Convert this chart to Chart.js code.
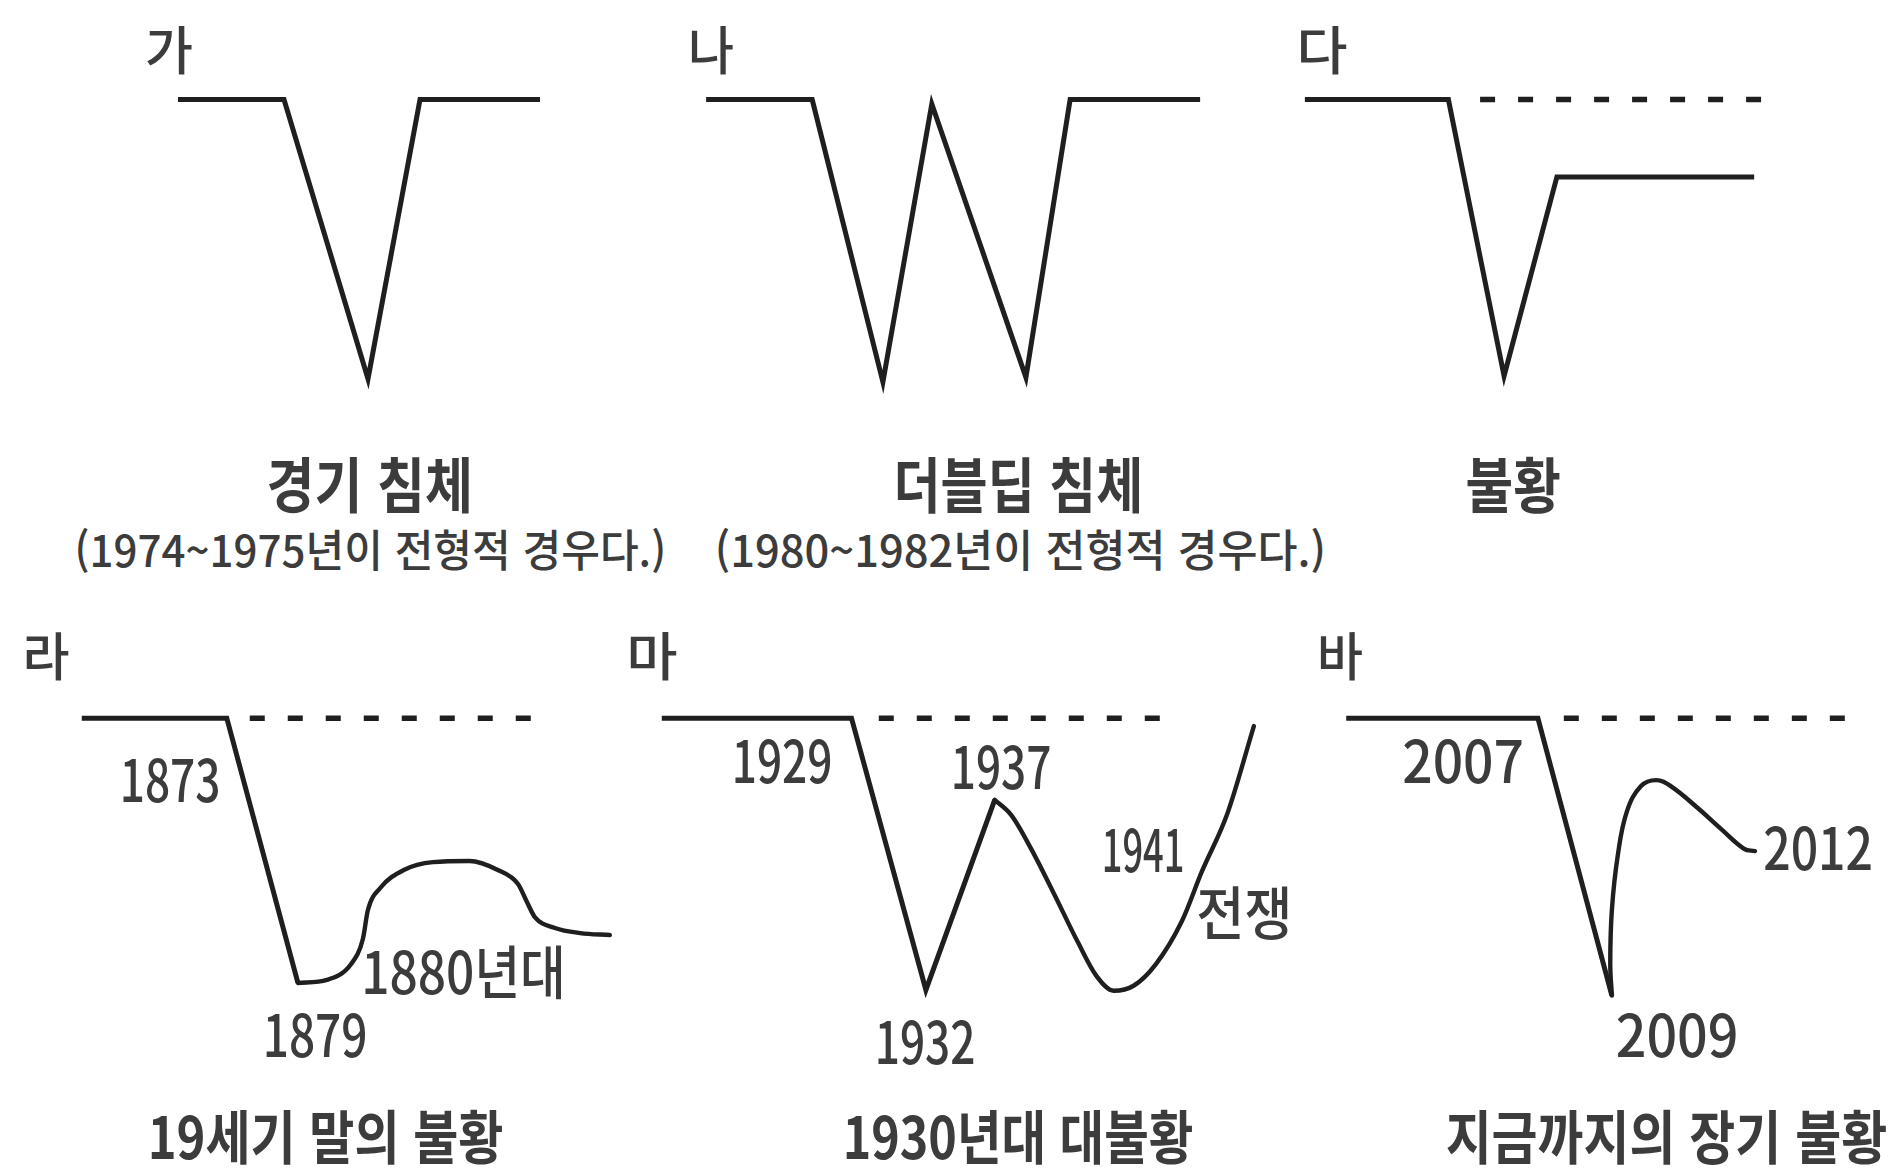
<!DOCTYPE html>
<html lang="ko">
<head>
<meta charset="utf-8">
<script src="https://cdn.jsdelivr.net/npm/chart.js@4.4.0/dist/chart.umd.min.js"></script>
<style>
  body { margin: 0; background: #fff; }
  #stage { position: relative; width: 1900px; height: 1171px; overflow: hidden;
           font-family: "Noto Sans CJK KR", "Noto Sans", sans-serif; color: #3c3c3c; }
  #stage canvas { position: absolute; }
  .txt { position: absolute; white-space: nowrap; line-height: 1; transform-origin: center center; }
</style>
</head>
<body>
<div id="stage"></div>
<script>
const INK = '#1f1f1f';

// text
const panelLetters = ['가', '나', '다', '라', '마', '바'];
const captionTitles = ['경기 침체', '더블딥 침체', '불황', '19세기 말의 불황', '1930년대 대불황', '지금까지의 장기 불황'];
const captionNotes = ['(1974~1975년이 전형적 경우다.)', '(1980~1982년이 전형적 경우다.)'];
const years19 = ['1873', '1879', '1880년대'];
const years30 = ['1929', '1937', '1932', '1941', '전쟁'];
const years08 = ['2007', '2009', '2012'];

// 가: V (time 0-100, level 100 = trend)
const vT = [4.5, 31, 52, 65, 95];
const vLevel = [100, 100, 4, 100, 100];

// 나: W
const wT = [3.1, 23.5, 37.1, 46.5, 64.6, 73.1, 98.1];
const wLevel = [100, 100, 2.9, 98.5, 4.5, 100, 100];

// 다: drop to a lower plateau
const lT = [3.1, 33, 44.6, 55.6, 96.7];
const lLevel = [100, 100, 5, 73.4, 73.4];
const lTrendT = [39.6, 98.3];
const lTrendLevel = [100, 100];

// 라: 1873-1880s
const d19DropT = [2.1, 28, 40.7];
const d19DropLevel = [100, 100, 6];
const d19CurveT = [40.7, 45.9, 50.2, 52.3, 53.2, 55.4, 59.6, 64.8, 71.3, 76.4, 80.0, 81.6, 83.0, 86.6, 91.1, 96.4];
const d19CurveLevel = [6, 7.1, 12.7, 21.6, 31.9, 39.7, 46.1, 48.9, 49.3, 46.1, 41.1, 34.7, 29.4, 25.5, 23.7, 23.0];
const d19TrendT = [32.1, 83.8];

// 마: 1929-1941
const d30DropT = [1.9, 32.5, 44.5, 55.6];
const d30DropLevel = [100, 100, 3.5, 71];
const d30CurveT = [55.6, 58.3, 61.5, 65.2, 69.0, 72.0, 74.8, 78.0, 81.6, 85.8, 89.0, 93.1, 97.4];
const d30CurveLevel = [71, 65.5, 53.5, 37.5, 20.5, 8.5, 3.2, 5.0, 12.7, 28.0, 45.5, 66.0, 97.2];
const d30TrendT = [36.9, 83.4];

// 바: 2007-2012
const d08DropT = [3.0, 38.5, 52.2];
const d08DropLevel = [100, 100, 1.5];
const d08CurveT = [52.2, 51.9, 52.2, 53.3, 55.0, 57.6, 60.4, 63.1, 68.1, 72.4, 76.7, 78.7];
const d08CurveLevel = [1.5, 12.7, 31.9, 51.4, 67.0, 75.9, 78.0, 75.9, 68.1, 60.7, 53.6, 52.8];
const d08TrendT = [43.3, 96.5];
const trendLevel = [100, 100];

const stage = document.getElementById('stage');
const pts = (xs, ys) => xs.map((x, i) => ({ x, y: ys[i] }));

const solid = (xs, ys) => ({ data: pts(xs, ys), borderWidth: 5, tension: 0 });
const curve = (xs, ys, mode) => ({ data: pts(xs, ys), borderWidth: 4.4, tension: 0.4,
                                   cubicInterpolationMode: mode || 'default',
                                   borderCapStyle: 'round', borderJoinStyle: 'round' });
const dashed = (xs, ys) => ({ data: pts(xs, ys), borderWidth: 5.5, borderDash: [15, 23] });

function panel(left, top, width, height, yMin, yMax, datasets) {
  const cv = document.createElement('canvas');
  cv.width = width;
  cv.height = height;
  cv.style.left = left + 'px';
  cv.style.top = top + 'px';
  stage.appendChild(cv);
  datasets.forEach(d => { d.clip = false; d.fill = false; });
  new Chart(cv, {
    type: 'line',
    data: { datasets },
    options: {
      responsive: false,
      animation: false,
      events: [],
      layout: { padding: 0 },
      plugins: { legend: { display: false }, tooltip: { enabled: false } },
      scales: {
        x: { type: 'linear', min: 0, max: 100, display: false },
        y: { min: yMin, max: yMax, display: false }
      },
      elements: {
        point: { radius: 0 },
        line: { borderColor: INK, borderCapStyle: 'butt', borderJoinStyle: 'miter' }
      }
    }
  });
}

// top row
panel(160, 85, 400, 320, -5, 105, [solid(vT, vLevel)]);
panel(690, 85, 520, 320, -5, 105, [solid(wT, wLevel)]);
panel(1290, 85, 480, 320, -5, 105, [solid(lT, lLevel), dashed(lTrendT, lTrendLevel)]);

// bottom row
panel(70, 690, 560, 338, -10, 110, [
  solid(d19DropT, d19DropLevel), curve(d19CurveT, d19CurveLevel, 'monotone'), dashed(d19TrendT, trendLevel)]);
panel(650, 690, 620, 338, -10, 110, [
  solid(d30DropT, d30DropLevel), curve(d30CurveT, d30CurveLevel, 'monotone'), dashed(d30TrendT, trendLevel)]);
panel(1330, 690, 540, 338, -10, 110, [
  solid(d08DropT, d08DropLevel), curve(d08CurveT, d08CurveLevel), dashed(d08TrendT, trendLevel)]);

// text, squeezed to the narrow face of the original
function place(text, cx, cy, inkWidth, size, weight) {
  const el = document.createElement('div');
  el.className = 'txt';
  el.textContent = text;
  el.style.fontSize = size + 'px';
  el.style.fontWeight = weight || 500;
  stage.appendChild(el);
  const natural = el.offsetWidth;
  const sx = inkWidth ? (inkWidth + size * 0.08) / natural : 1;
  el.style.left = (cx - natural / 2) + 'px';
  el.style.top = (cy - size * 0.53) + 'px';
  el.style.transform = 'scaleX(' + sx.toFixed(3) + ')';
}

place(panelLetters[0], 169, 50, 44, 52);
place(panelLetters[1], 711, 50, 42, 52);
place(panelLetters[2], 1322, 50, 47, 52);
place(panelLetters[3], 46, 656, 43, 52);
place(panelLetters[4], 652, 656, 47, 52);
place(panelLetters[5], 1340, 656, 42, 52);

place(captionTitles[0], 370, 484, 202, 60, 700);
place(captionNotes[0], 370, 549, 588, 44, 500);
place(captionTitles[1], 1018, 484, 245, 60, 700);
place(captionNotes[1], 1020, 549, 608, 44, 500);
place(captionTitles[2], 1513, 484, 90, 60, 700);
place(captionTitles[3], 325, 1136, 351, 58, 700);
place(captionTitles[4], 1018, 1136, 346, 58, 700);
place(captionTitles[5], 1666, 1136, 437, 58, 700);

place(years19[0], 170, 779, 96, 58);
place(years19[1], 315, 1034, 100, 58);
place(years19[2], 463, 971, 200, 58);

place(years30[0], 782, 760, 96, 58);
place(years30[1], 1001, 766, 96, 58);
place(years30[2], 925, 1041, 96, 58);
place(years30[3], 1143, 849, 78, 58);
place(years30[4], 1244, 912, 92, 58);

place(years08[0], 1463, 760, 117, 58);
place(years08[1], 1677, 1034, 118, 58);
place(years08[2], 1818, 847, 105, 58);
</script>
</body>
</html>
